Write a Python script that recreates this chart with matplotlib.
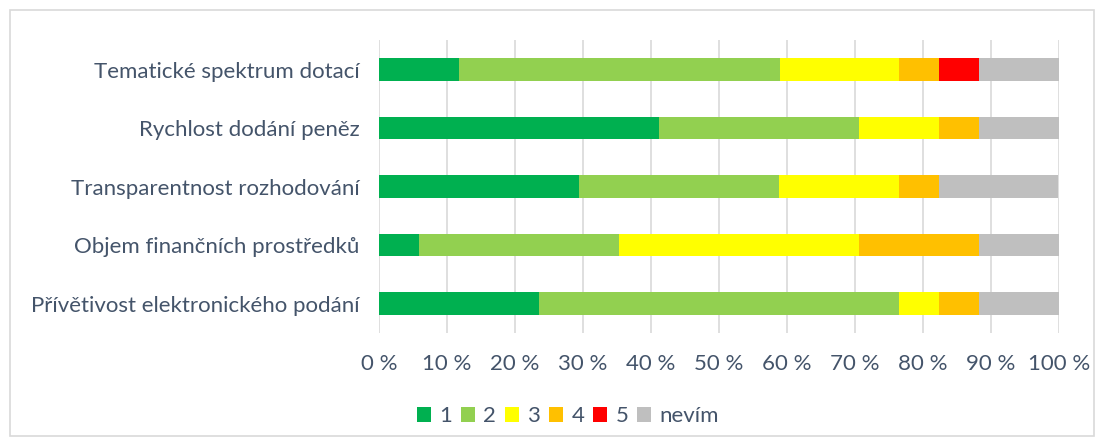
import matplotlib.pyplot as plt
from matplotlib.patches import Patch, FancyBboxPatch

plt.rcParams["font.family"] = ["Lato", "DejaVu Sans"]

categories = [
    "Tematické spektrum dotací",
    "Rychlost dodání peněz",
    "Transparentnost rozhodování",
    "Objem finančních prostředků",
    "Přívětivost elektronického podání",
]
series_names = ["1", "2", "3", "4", "5", "nevím"]
# shares in percent, one list per answer, in the order of categories
share_1 = [11.8, 41.2, 29.4, 5.9, 23.5]
share_2 = [47.1, 29.4, 29.4, 29.4, 52.9]
share_3 = [17.6, 11.8, 17.6, 35.3, 5.9]
share_4 = [5.9, 5.9, 5.9, 17.6, 5.9]
share_5 = [5.9, 0.0, 0.0, 0.0, 0.0]
share_nevim = [11.8, 11.8, 17.6, 11.8, 11.8]
x_ticks = [0, 10, 20, 30, 40, 50, 60, 70, 80, 90, 100]

colors = ["#00B050", "#92D050", "#FFFF00", "#FFC000", "#FF0000", "#BFBFBF"]
text_color = "#44546A"

fig = plt.figure(figsize=(11.04, 4.46), dpi=100)
ax = fig.add_axes([379 / 1104, 1 - 332.75 / 446, 680 / 1104, 292.5 / 446])

# chart border
fig.patches.append(FancyBboxPatch((10 / 1104, 10 / 446), 1084 / 1104, 426 / 446,
                                  boxstyle="square,pad=0", transform=fig.transFigure,
                                  fill=False, edgecolor="#D9D9D9", linewidth=1.2))

ypos = list(range(len(categories)))
left = [0.0] * len(categories)
for vals, col, name in zip([share_1, share_2, share_3, share_4, share_5, share_nevim],
                           colors, series_names):
    ax.barh(ypos, vals, left=left, height=0.39, color=col, label=name, zorder=3)
    left = [a + b for a, b in zip(left, vals)]

ax.set_xlim(0, 100)
ax.set_ylim(len(categories) - 0.5, -0.5)
ax.set_yticks(ypos)
ax.set_yticklabels(categories)
ax.set_xticks(x_ticks)
ax.set_xticklabels([f"{t} %" for t in x_ticks])
ax.grid(axis="x", color="#D9D9D9", linewidth=1.2, zorder=0)
for s in ax.spines.values():
    s.set_visible(False)
ax.tick_params(axis="both", length=0, colors=text_color, labelsize=16)
ax.tick_params(axis="y", pad=14)
ax.tick_params(axis="x", pad=15)

handles = [Patch(facecolor=c, edgecolor="none") for c in colors]
fig.legend(handles, series_names, loc="center", bbox_to_anchor=(568 / 1104, 1 - 416 / 446),
           ncol=6, frameon=False, fontsize=16, labelcolor=text_color,
           handlelength=0.64, handleheight=0.64, handletextpad=0.36, columnspacing=0.4)

fig.savefig("out.png", dpi=100)
